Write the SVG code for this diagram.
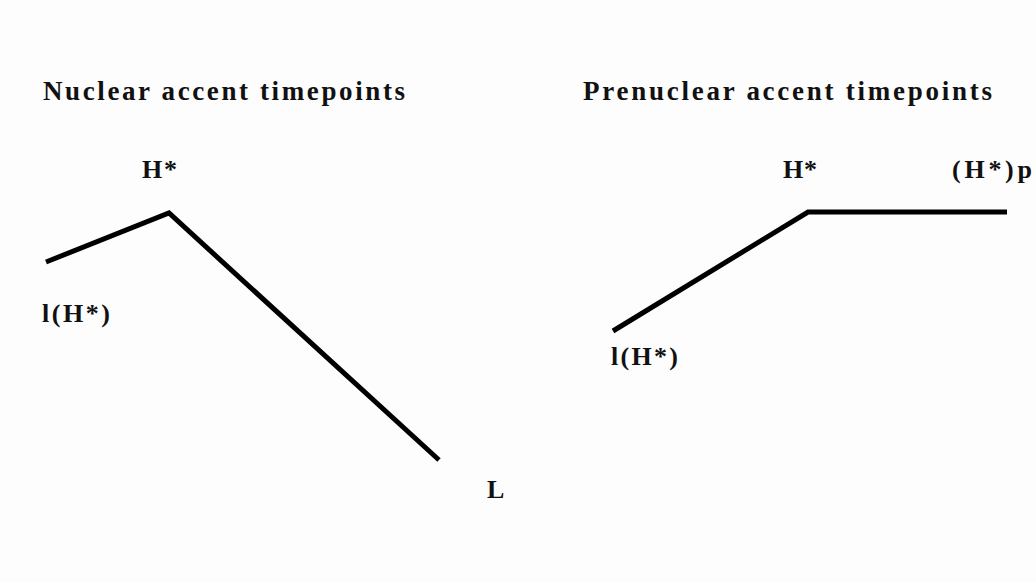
<svg xmlns="http://www.w3.org/2000/svg" width="1036" height="582" viewBox="0 0 1036 582">
<style>
.t{font-family:"Liberation Serif","Times New Roman",serif;font-weight:bold;font-size:26px;fill:#111}
.h{font-size:27px}
.c{fill:none;stroke:#000;stroke-width:5;stroke-linejoin:miter}
</style>
<rect width="1036" height="582" fill="#fdfdfd"/>
<g id="title-nuclear"><text class="t h" x="43" y="100" textLength="362" lengthAdjust="spacing">Nuclear accent timepoints</text></g>
<g id="title-prenuclear"><text class="t h" x="583" y="100" textLength="409" lengthAdjust="spacing">Prenuclear accent timepoints</text></g>
<g id="n-l"><text class="t" x="42" y="322" textLength="68" lengthAdjust="spacing">l(H*)</text></g>
<g id="n-h"><text class="t" x="142" y="178" textLength="35" lengthAdjust="spacing">H*</text></g>
<g id="n-L"><text class="t" x="487" y="498">L</text></g>
<g id="p-l"><text class="t" x="611" y="365" textLength="67" lengthAdjust="spacing">l(H*)</text></g>
<g id="p-h"><text class="t" x="783" y="178" textLength="34" lengthAdjust="spacing">H*</text></g>
<g id="p-hp"><text class="t" x="952" y="178" textLength="80" lengthAdjust="spacing">(H*)p</text></g>
<g id="connectors">
<polyline class="c" points="46,262 169,213 439,460"/>
<polyline class="c" points="613,331 808,212 1007,212"/>
</g>
</svg>
